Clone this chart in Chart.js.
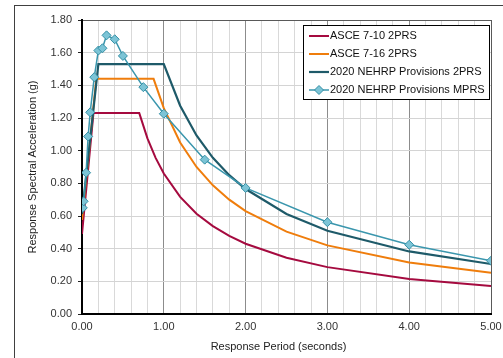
<!DOCTYPE html>
<html>
<head>
<meta charset="utf-8">
<script src="https://cdn.jsdelivr.net/npm/chart.js@4.4.0/dist/chart.umd.min.js"></script>
<style>
  html, body { margin: 0; padding: 0; background: #fff; }
  #wrap { width: 503px; height: 358px; position: relative; }
</style>
</head>
<body>
<div id="wrap"><canvas id="c" width="503" height="358"></canvas></div>
<script>
// Design response spectra, spectral acceleration (g) vs. period (s)
const seriesNames = [
  'ASCE 7-10 2PRS',
  'ASCE 7-16 2PRS',
  '2020 NEHRP Provisions 2PRS',
  '2020 NEHRP Provisions MPRS'
];

const periods710 = [0, 0.14, 0.70, 0.8, 0.9, 1.0, 1.2, 1.4, 1.6, 1.8, 2.0, 2.5, 3.0, 4.0, 5.0];
const sa710      = [0.49, 1.23, 1.23, 1.075, 0.956, 0.86, 0.717, 0.614, 0.538, 0.478, 0.43, 0.344, 0.287, 0.215, 0.172];

const periods716 = [0, 0.175, 0.875, 1.0, 1.2, 1.4, 1.6, 1.8, 2.0, 2.5, 3.0, 4.0, 5.0];
const sa716      = [0.576, 1.44, 1.44, 1.26, 1.05, 0.90, 0.788, 0.70, 0.63, 0.504, 0.42, 0.315, 0.252];

const periodsN2 = [0, 0.2, 1.0, 1.2, 1.4, 1.6, 1.8, 2.0, 2.5, 3.0, 4.0, 5.0];
const saN2      = [0.612, 1.53, 1.53, 1.275, 1.093, 0.956, 0.85, 0.765, 0.612, 0.51, 0.383, 0.306];

const periodsMP = [0.01, 0.02, 0.05, 0.075, 0.1, 0.15, 0.2, 0.25, 0.3, 0.4, 0.5, 0.75, 1.0, 1.5, 2.0, 3.0, 4.0, 5.0];
const saMP      = [0.65, 0.69, 0.865, 1.087, 1.235, 1.45, 1.613, 1.627, 1.706, 1.682, 1.58, 1.389, 1.226, 0.945, 0.772, 0.562, 0.424, 0.326];

const xTitle = 'Response Period (seconds)';
const yTitle = 'Response Spectral Acceleration (g)';

const toPoints = (xs, ys) => xs.map((x, i) => ({ x: x, y: ys[i] }));
const isWhole = v => Math.abs(v - Math.round(v)) < 1e-6;
const FONT = "'Liberation Sans', Arial, sans-serif";

// White background and the outer chart frame
const framePlugin = {
  id: 'frame',
  beforeDraw(chart) {
    const ctx = chart.ctx;
    ctx.save();
    ctx.fillStyle = '#fff';
    ctx.fillRect(0, 0, chart.width, chart.height);
    ctx.strokeStyle = '#404040';
    ctx.lineWidth = 1;
    ctx.strokeRect(14.5, 5.5, chart.width + 20, chart.height + 20);
    ctx.restore();
  }
};

// Axis titles
const titlePlugin = {
  id: 'axisTitles',
  afterDraw(chart) {
    const ctx = chart.ctx;
    const a = chart.chartArea;
    ctx.save();
    ctx.fillStyle = '#222';
    ctx.font = '11px ' + FONT;
    ctx.textAlign = 'center';
    ctx.textBaseline = 'middle';
    ctx.fillText(xTitle, 278.5, a.bottom + 33);
    ctx.translate(33, (a.top + a.bottom) / 2);
    ctx.rotate(-Math.PI / 2);
    ctx.fillText(yTitle, 0, 0);
    ctx.restore();
  }
};

// Boxed legend in the upper right of the plot
const legendPlugin = {
  id: 'boxLegend',
  afterDraw(chart) {
    const ctx = chart.ctx;
    const bx = 303.5, by = 25.5, bw = 186, bh = 74;
    ctx.save();
    ctx.fillStyle = '#fff';
    ctx.fillRect(bx, by, bw, bh);
    ctx.strokeStyle = '#000';
    ctx.lineWidth = 1;
    ctx.strokeRect(bx, by, bw, bh);
    ctx.font = '11px ' + FONT;
    ctx.textBaseline = 'middle';
    ctx.textAlign = 'left';
    chart.data.datasets.forEach((ds, i) => {
      const cy = by + 10.5 + i * 18;
      ctx.strokeStyle = ds.borderColor;
      ctx.lineWidth = ds.borderWidth;
      ctx.beginPath();
      ctx.moveTo(309, cy);
      ctx.lineTo(329, cy);
      ctx.stroke();
      if (ds.pointRadius > 0) {
        const r = ds.pointRadius;
        ctx.beginPath();
        ctx.moveTo(319, cy - r);
        ctx.lineTo(319 + r, cy);
        ctx.lineTo(319, cy + r);
        ctx.lineTo(319 - r, cy);
        ctx.closePath();
        ctx.fillStyle = ds.pointBackgroundColor;
        ctx.fill();
        ctx.strokeStyle = ds.pointBorderColor;
        ctx.lineWidth = ds.pointBorderWidth;
        ctx.stroke();
      }
      ctx.fillStyle = '#111';
      ctx.fillText(ds.label, 330, cy);
    });
    ctx.restore();
  }
};

new Chart(document.getElementById('c'), {
  type: 'scatter',
  data: {
    datasets: [
      {
        label: seriesNames[0], data: toPoints(periods710, sa710),
        showLine: true, borderColor: '#A50A3F', borderWidth: 2,
        pointRadius: 0, tension: 0, order: 4
      },
      {
        label: seriesNames[1], data: toPoints(periods716, sa716),
        showLine: true, borderColor: '#EF7D0C', borderWidth: 2,
        pointRadius: 0, tension: 0, order: 3
      },
      {
        label: seriesNames[2], data: toPoints(periodsN2, saN2),
        showLine: true, borderColor: '#1E5A69', borderWidth: 2.2,
        pointRadius: 0, tension: 0, order: 2
      },
      {
        label: seriesNames[3], data: toPoints(periodsMP, saMP),
        showLine: true, borderColor: '#3A96AD', borderWidth: 1.5,
        pointStyle: 'rectRot', pointRadius: 4.5,
        pointBackgroundColor: '#7CC4D6', pointBorderColor: '#3590A6', pointBorderWidth: 1,
        tension: 0, order: 1
      }
    ]
  },
  options: {
    responsive: false,
    animation: false,
    events: [],
    layout: { padding: { left: 0, right: 0, top: 20, bottom: 0 } },
    plugins: { legend: { display: false }, tooltip: { enabled: false } },
    scales: {
      x: {
        type: 'linear', min: 0, max: 5,
        afterFit(s) { s.height = 44; s.paddingLeft = 0; s.paddingRight = 12; },
        border: { color: '#000', width: 2 },
        grid: {
          drawTicks: false,
          lineWidth: 1,
          color: c => {
            const v = c.tick ? c.tick.value : 0;
            if (Math.abs(v - 5) < 1e-6) return '#595959';
            return isWhole(v) ? '#8c8c8c' : '#d9d9d9';
          }
        },
        ticks: {
          stepSize: 0.2, autoSkip: false, maxRotation: 0, padding: 6,
          color: '#333', font: { family: FONT, size: 11 },
          callback: v => isWhole(v) ? Math.round(v).toFixed(2) : ''
        }
      },
      y: {
        type: 'linear', min: 0, max: 1.8,
        afterFit(s) { s.width = 82; s.paddingTop = 0; s.paddingBottom = 0; },
        border: { color: '#000', width: 2 },
        grid: {
          tickLength: 4, tickColor: '#222', tickWidth: 1,
          lineWidth: 1,
          color: c => {
            const v = c.tick ? c.tick.value : 0;
            return Math.abs(v - 1.8) < 1e-6 ? '#595959' : '#d4d4d4';
          }
        },
        ticks: {
          stepSize: 0.2, padding: 6,
          color: '#333', font: { family: FONT, size: 11 },
          callback: v => Number(v).toFixed(2)
        }
      }
    }
  },
  plugins: [framePlugin, titlePlugin, legendPlugin]
});
</script>
</body>
</html>
